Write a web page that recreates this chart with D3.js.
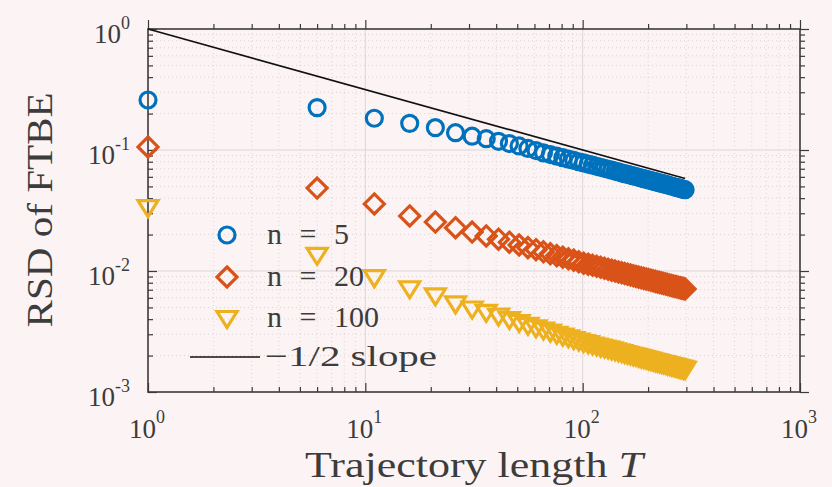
<!DOCTYPE html>
<html>
<head>
<meta charset="utf-8">
<script src="https://cdn.jsdelivr.net/npm/d3@7"></script>
<style>
  html, body { margin: 0; padding: 0; background: #fcf4f4; }
  svg { display: block; }
</style>
</head>
<body>
<svg id="chart" width="832" height="487" font-family="'Liberation Serif', Tinos, 'Times New Roman', Times, serif"></svg>
<script>
// Trajectory lengths T (sampled every 5 steps)
const trajLength = [1,6,11,16,21,26,31,36,41,46,51,56,61,66,71,76,81,86,91,96,
  101,106,111,116,121,126,131,136,141,146,151,156,161,166,171,176,181,186,191,196,
  201,206,211,216,221,226,231,236,241,246,251,256,261,266,271,276,281,286,291,296];

// RSD of FTBE for n = 5
const rsdN5 = [0.259,0.224,0.183,0.166,0.153,0.139,0.130,0.124,0.118,0.113,
  0.108,0.103,0.099,0.0947,0.0917,0.0889,0.0864,0.0841,0.0820,0.0800,
  0.0782,0.0765,0.0749,0.0733,0.0719,0.0706,0.0693,0.0681,0.0670,0.0659,
  0.0648,0.0638,0.0629,0.0620,0.0611,0.0603,0.0595,0.0587,0.0580,0.0573,
  0.0566,0.0559,0.0553,0.0547,0.0541,0.0535,0.0529,0.0524,0.0519,0.0514,
  0.0509,0.0504,0.0499,0.0494,0.0490,0.0486,0.0482,0.0477,0.0473,0.0470];

// RSD of FTBE for n = 20
const rsdN20 = [0.106,0.0485,0.0358,0.0285,0.0254,0.0228,0.0210,0.0195,0.0183,0.0173,
  0.0164,0.0156,0.0150,0.0144,0.0139,0.0134,0.0130,0.0126,0.0123,0.0119,
  0.0116,0.01139,0.01115,0.01093,0.01072,0.01052,0.01033,0.01016,0.00999,0.00983,
  0.00968,0.00954,0.00940,0.00927,0.00914,0.00902,0.00890,0.00879,0.00869,0.00859,
  0.00849,0.00839,0.00830,0.00821,0.00812,0.00804,0.00796,0.00788,0.00781,0.00773,
  0.00766,0.00759,0.00753,0.00746,0.00740,0.00733,0.00727,0.00722,0.00716,0.00710];

// RSD of FTBE for n = 100
const rsdN100 = [0.0337,0.0136,0.0089,0.0072,0.0063,0.0054,0.0049,0.0046,0.00428,0.00401,
  0.00379,0.00359,0.00343,0.00328,0.00315,0.00303,0.00292,0.00283,0.00274,0.00266,
  0.00259,0.00253,0.00247,0.00242,0.00237,0.00233,0.00229,0.00225,0.00221,0.00217,
  0.00214,0.00210,0.00207,0.00204,0.00201,0.00199,0.00196,0.00193,0.00191,0.00189,
  0.00186,0.00184,0.00182,0.00180,0.00178,0.00176,0.00174,0.00173,0.00171,0.00169,
  0.00168,0.00166,0.00165,0.00163,0.00162,0.00160,0.00159,0.00158,0.00156,0.00155];

// Reference line with slope -1/2
const refT = [1, 296];
const refY = [1, 0.0581];

const seriesLabels = ["n = 5", "n = 20", "n = 100"];
const refLabel = "\u22121/2 slope";
const xTickExp = [0, 1, 2, 3];
const yTickExp = [0, -1, -2, -3];
const xTitle = "Trajectory length ";
const xTitleVar = "T";
const yTitle = "RSD of FTBE";

const W = 832, H = 487;
const M = { left: 148, right: 800, top: 29, bottom: 392 };
const ink = "#3c3c3c";

const svg = d3.select("#chart");
svg.append("rect").attr("width", W).attr("height", H).attr("fill", "#fcf4f4");

const x = d3.scaleLog().domain([1, 1000]).range([M.left, M.right]);
const y = d3.scaleLog().domain([1e-3, 1]).range([M.bottom, M.top]);

const majorX = xTickExp.map(e => Math.pow(10, e));
const majorY = yTickExp.map(e => Math.pow(10, e));
const minorX = x.ticks().filter(v => !majorX.some(m => Math.abs(m - v) < 1e-9));
const minorY = y.ticks().filter(v => !majorY.some(m => Math.abs(m - v) < 1e-12));

// grid
const grid = svg.append("g");
grid.selectAll(".gxm").data(minorX).join("line")
  .attr("x1", d => x(d)).attr("x2", d => x(d)).attr("y1", M.top).attr("y2", M.bottom)
  .attr("stroke", "#d3cdcd").attr("stroke-width", 0.8).attr("stroke-dasharray", "1,3");
grid.selectAll(".gym").data(minorY).join("line")
  .attr("y1", d => y(d)).attr("y2", d => y(d)).attr("x1", M.left).attr("x2", M.right)
  .attr("stroke", "#d3cdcd").attr("stroke-width", 0.8).attr("stroke-dasharray", "1,3");
grid.selectAll(".gxM").data(majorX.slice(1, -1)).join("line")
  .attr("x1", d => x(d)).attr("x2", d => x(d)).attr("y1", M.top).attr("y2", M.bottom)
  .attr("stroke", "#dcd6d6").attr("stroke-width", 1);
grid.selectAll(".gyM").data(majorY.slice(1, -1)).join("line")
  .attr("y1", d => y(d)).attr("y2", d => y(d)).attr("x1", M.left).attr("x2", M.right)
  .attr("stroke", "#dcd6d6").attr("stroke-width", 1);

// axes with inward ticks on all four sides
function styleAxis(g) {
  g.select(".domain").remove();
  g.selectAll("line").attr("stroke", "#3a3a3a").attr("stroke-width", 1.2);
  g.selectAll("text").remove();
}
const axes = svg.append("g");
[[d3.axisBottom, M.bottom, 1], [d3.axisTop, M.top, -1]].forEach(([fn, pos, s]) => {
  axes.append("g").attr("transform", `translate(0,${pos})`)
    .call(fn(x).tickValues(majorX).tickSize(-9 * s)).call(styleAxis);
  axes.append("g").attr("transform", `translate(0,${pos})`)
    .call(fn(x).tickValues(minorX).tickSize(-5 * s)).call(styleAxis);
});
[[d3.axisLeft, M.left, 1], [d3.axisRight, M.right, -1]].forEach(([fn, pos, s]) => {
  axes.append("g").attr("transform", `translate(${pos},0)`)
    .call(fn(y).tickValues(majorY).tickSize(-9 * s)).call(styleAxis);
  axes.append("g").attr("transform", `translate(${pos},0)`)
    .call(fn(y).tickValues(minorY).tickSize(-5 * s)).call(styleAxis);
});
axes.append("rect")
  .attr("x", M.left).attr("y", M.top)
  .attr("width", M.right - M.left).attr("height", M.bottom - M.top)
  .attr("fill", "none").attr("stroke", "#3a3a3a").attr("stroke-width", 1.6);

// tick labels 10^k
const labels = svg.append("g").attr("fill", ink);
xTickExp.forEach(e => {
  const t = labels.append("text")
    .attr("x", x(Math.pow(10, e)) - 1).attr("y", M.bottom + 46)
    .attr("text-anchor", "middle").attr("font-size", 27);
  t.append("tspan").text("10");
  t.append("tspan").attr("dy", -15).attr("font-size", 18).text(String(e));
});
yTickExp.forEach(e => {
  const t = labels.append("text")
    .attr("x", M.left - 18).attr("y", y(Math.pow(10, e)) + 14)
    .attr("text-anchor", "end").attr("font-size", 27);
  t.append("tspan").text("10");
  t.append("tspan").attr("dy", -14).attr("font-size", 18)
    .text(e === 0 ? "0" : "-" + String(-e));
});

// axis titles
const xt = labels.append("text")
  .attr("x", (M.left + M.right) / 2).attr("y", 477)
  .attr("text-anchor", "middle").attr("font-size", 35)
  .attr("textLength", 338).attr("lengthAdjust", "spacingAndGlyphs");
xt.append("tspan").text(xTitle);
xt.append("tspan").attr("font-style", "italic").text(xTitleVar);

labels.append("text")
  .attr("transform", "translate(52,210) rotate(-90)")
  .attr("text-anchor", "middle").attr("font-size", 35)
  .attr("textLength", 235).attr("lengthAdjust", "spacingAndGlyphs")
  .text(yTitle);

// markers
const colors = ["#0072BD", "#D95319", "#EDB120"];
const shapes = [
  "M8,0A8,8 0 1,1 -8,0A8,8 0 1,1 8,0Z",
  "M0,-10L10,0L0,10L-10,0Z",
  "M-10,-6.5L10,-6.5L0,9.5Z"
];
const allSeries = [rsdN5, rsdN20, rsdN100];
const plot = svg.append("g");
allSeries.forEach((vals, i) => {
  plot.append("g").selectAll("path")
    .data(trajLength.map((t, k) => [t, vals[k]]))
    .join("path")
    .attr("transform", d => `translate(${x(d[0])},${y(d[1])})`)
    .attr("d", shapes[i])
    .attr("fill", "none")
    .attr("stroke", colors[i])
    .attr("stroke-width", 3.2);
});

// reference line
plot.append("path")
  .datum(refT.map((t, k) => [t, refY[k]]))
  .attr("d", d3.line().x(d => x(d[0])).y(d => y(d[1])))
  .attr("fill", "none").attr("stroke", "#111").attr("stroke-width", 1.7);

// legend
const legend = svg.append("g").attr("fill", ink);
const rowY = [235, 277, 318, 357];
seriesLabels.forEach((lab, i) => {
  legend.append("path")
    .attr("transform", `translate(227,${rowY[i]})`)
    .attr("d", shapes[i]).attr("fill", "none")
    .attr("stroke", colors[i]).attr("stroke-width", 3.2);
  legend.append("text")
    .attr("x", 267).attr("y", rowY[i] + 9)
    .attr("font-size", 30).attr("word-spacing", 10)
    .text(lab);
});
legend.append("line")
  .attr("x1", 190).attr("x2", 260).attr("y1", rowY[3]).attr("y2", rowY[3])
  .attr("stroke", "#111").attr("stroke-width", 1.7);
legend.append("text")
  .attr("x", 265).attr("y", rowY[3] + 9)
  .attr("font-size", 30)
  .attr("textLength", 172).attr("lengthAdjust", "spacingAndGlyphs")
  .text(refLabel);
</script>
</body>
</html>
